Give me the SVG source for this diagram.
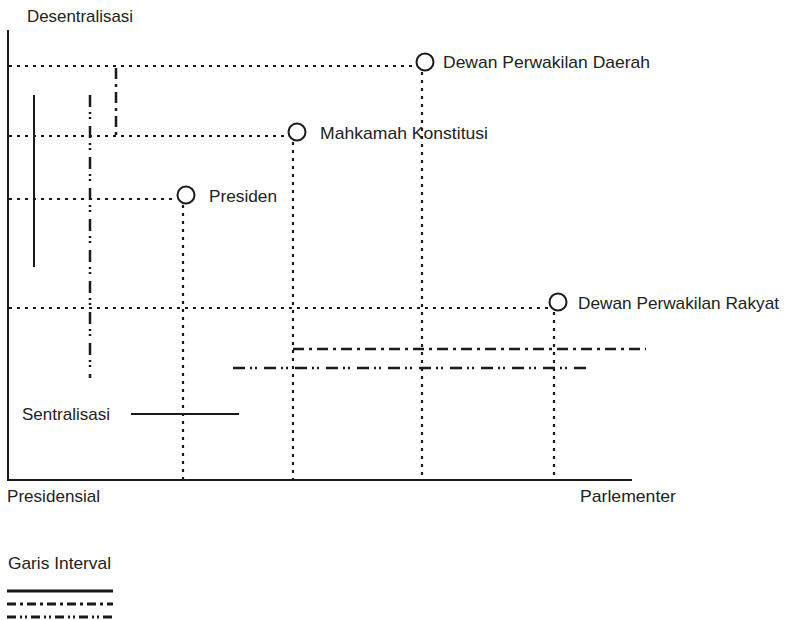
<svg xmlns="http://www.w3.org/2000/svg" width="786" height="620" viewBox="0 0 786 620">
<style>
text{font-family:"Liberation Sans",Arial,sans-serif;font-size:17px;fill:#222}
.ax{stroke:#1a1a1a;stroke-width:2;fill:none}
.dot{stroke:#1a1a1a;stroke-width:2.2;stroke-dasharray:3 5;fill:none}
.dd{stroke:#1a1a1a;stroke-width:2.5;stroke-dasharray:11 5 3 5;fill:none}
.ddd{stroke:#1a1a1a;stroke-width:2.5;stroke-dasharray:12 5 2 3 2 7;fill:none}
.circ{stroke:#1a1a1a;stroke-width:2;fill:#fff}
</style>
<rect width="786" height="620" fill="#fff"/>
<g id="axes">
<line class="ax" x1="8" y1="30" x2="8" y2="481"/>
<line class="ax" x1="7" y1="480" x2="632" y2="480"/>
<text x="27" y="22" textLength="106" lengthAdjust="spacingAndGlyphs">Desentralisasi</text>
<text x="7" y="502" textLength="93" lengthAdjust="spacingAndGlyphs">Presidensial</text>
<text x="580" y="502" textLength="96" lengthAdjust="spacingAndGlyphs">Parlementer</text>
</g>
<g id="connectors">
<line class="dot" x1="9" y1="66" x2="417" y2="66"/>
<line class="dot" x1="422" y1="72" x2="422" y2="479"/>
<line class="dot" x1="9" y1="136" x2="288" y2="136"/>
<line class="dot" x1="293" y1="142" x2="293" y2="479"/>
<line class="dot" x1="9" y1="199" x2="176" y2="199"/>
<line class="dot" x1="183" y1="205" x2="183" y2="479"/>
<line class="dot" x1="9" y1="308" x2="548" y2="308"/>
<line class="dot" x1="554" y1="312" x2="554" y2="479"/>
<line class="ax" x1="34" y1="95" x2="34" y2="267"/>
<line class="ddd" x1="90" y1="95" x2="90" y2="378"/>
<line class="dd" x1="116" y1="68" x2="116" y2="138"/>
<line class="dd" x1="293" y1="349" x2="646" y2="349"/>
<line class="ddd" x1="233" y1="368" x2="591" y2="368"/>
<line class="ax" x1="131" y1="414" x2="239" y2="414"/>
<text x="22" y="420" textLength="88" lengthAdjust="spacingAndGlyphs">Sentralisasi</text>
</g>
<g id="node-dpd">
<circle class="circ" cx="425" cy="62" r="8.5"/>
<text x="443" y="68" textLength="207" lengthAdjust="spacingAndGlyphs">Dewan Perwakilan Daerah</text>
</g>
<g id="node-mk">
<circle class="circ" cx="297" cy="132" r="8.5"/>
<text x="320" y="139" textLength="168" lengthAdjust="spacingAndGlyphs">Mahkamah Konstitusi</text>
</g>
<g id="node-presiden">
<circle class="circ" cx="186" cy="195" r="8.5"/>
<text x="209" y="202" textLength="68" lengthAdjust="spacingAndGlyphs">Presiden</text>
</g>
<g id="node-dpr">
<circle class="circ" cx="558" cy="302" r="8.5"/>
<text x="578" y="309" textLength="201" lengthAdjust="spacingAndGlyphs">Dewan Perwakilan Rakyat</text>
</g>
<g id="legend">
<text x="8" y="569" textLength="103" lengthAdjust="spacingAndGlyphs">Garis Interval</text>
<line stroke="#1a1a1a" stroke-width="3" x1="7" y1="591" x2="113" y2="591"/>
<line stroke="#1a1a1a" stroke-width="3" stroke-dasharray="9 4 3 4" x1="7" y1="604" x2="113" y2="604"/>
<line stroke="#1a1a1a" stroke-width="3" stroke-dasharray="9 4 2 3 2 4" x1="7" y1="617" x2="113" y2="617"/>
</g>
</svg>
